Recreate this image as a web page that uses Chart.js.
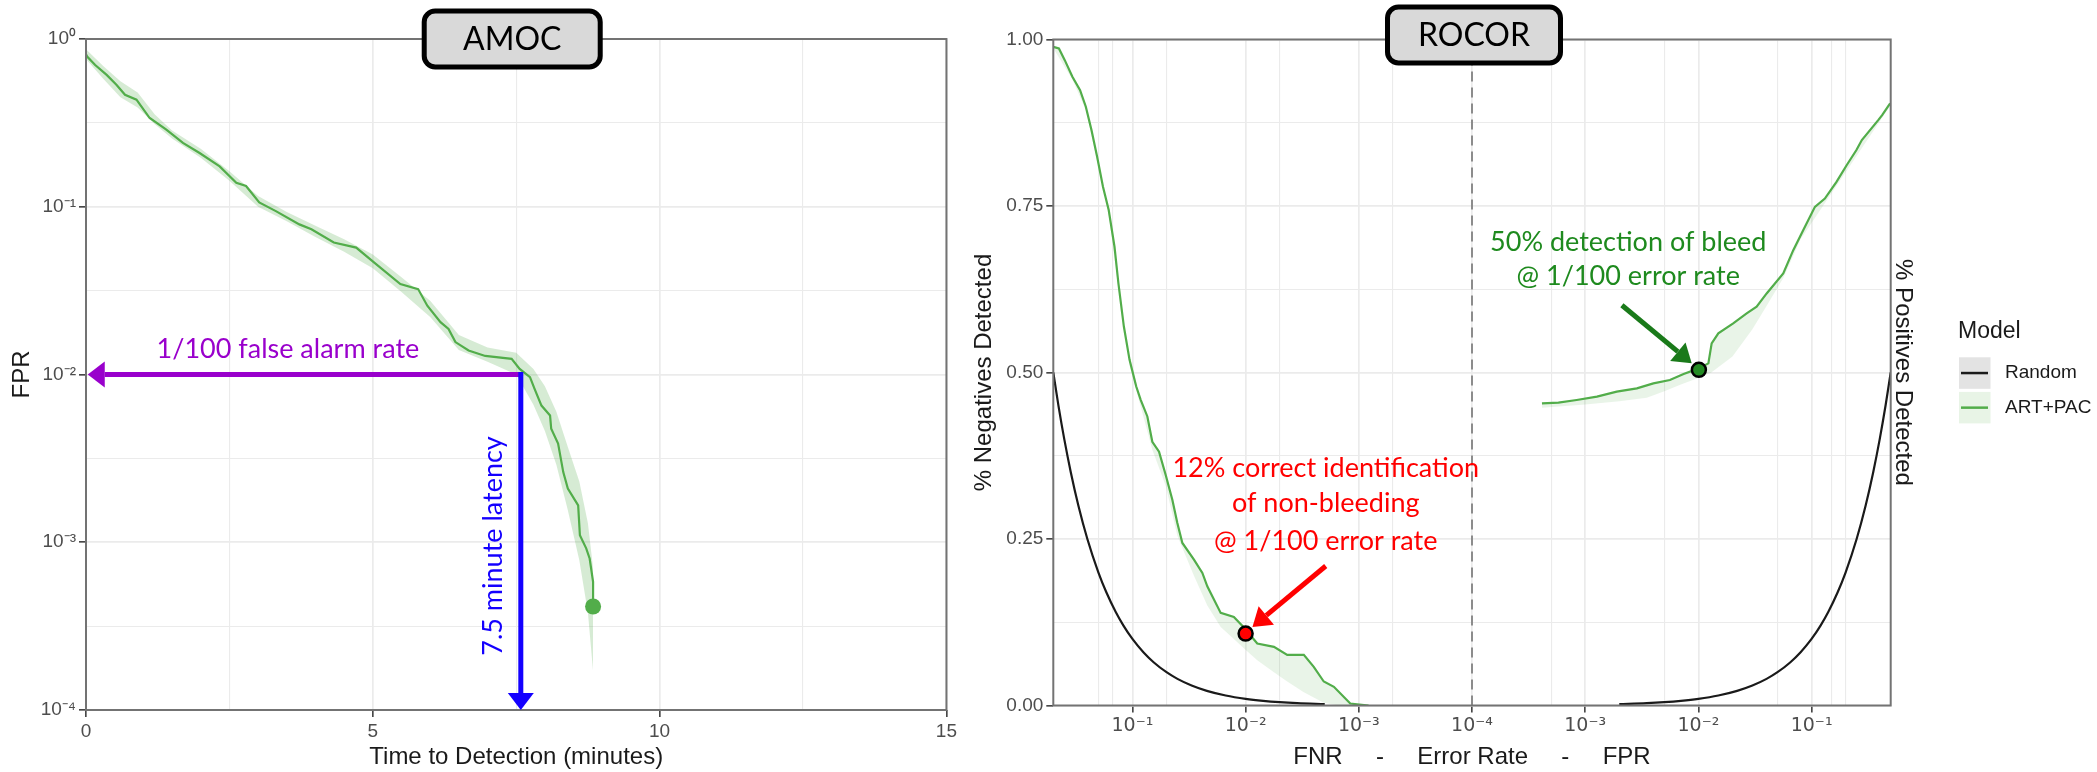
<!DOCTYPE html>
<html>
<head>
<meta charset="utf-8">
<title>AMOC / ROCOR</title>
<script src="https://cdn.jsdelivr.net/npm/chart.js@4.4.1/dist/chart.umd.min.js"></script>
<style>
  html, body { margin: 0; padding: 0; background: #fff; }
  body { width: 2097px; height: 772px; position: relative; overflow: hidden; }
  #amocWrap { position: absolute; left: 0; top: 0; width: 960px; height: 772px; }
  #rocorWrap { position: absolute; left: 960px; top: 0; width: 1137px; height: 772px; }
</style>
</head>
<body>
<div id="amocWrap"><canvas id="amocChart" width="960" height="772"></canvas></div>
<div id="rocorWrap"><canvas id="rocorChart" width="1137" height="772"></canvas></div>
<script>
/* ================= AMOC DATA ================= */
const amocTime = [0, 0.02, 0.16, 0.36, 0.53, 0.68, 0.88, 1.11, 1.40, 1.69, 1.98, 2.33, 2.62, 2.79, 3.02, 3.31, 3.72, 3.93, 4.32, 4.71, 5.02, 5.48, 5.79, 5.95, 6.18, 6.32, 6.44, 6.67, 6.96, 7.42, 7.56, 7.74, 7.82, 7.94, 8.09, 8.11, 8.23, 8.32, 8.40, 8.58, 8.61, 8.72, 8.78, 8.84, 8.84];
const amocFpr = [0.813, 0.785, 0.700, 0.611, 0.533, 0.465, 0.435, 0.338, 0.288, 0.240, 0.209, 0.174, 0.139, 0.133, 0.106, 0.0942, 0.0785, 0.0735, 0.0612, 0.0571, 0.0466, 0.0346, 0.0323, 0.0257, 0.0205, 0.0187, 0.0156, 0.0139, 0.0129, 0.0124, 0.0108, 0.00964, 0.0082, 0.00653, 0.0057, 0.00475, 0.00387, 0.00262, 0.00209, 0.00166, 0.0011, 0.00092, 0.0008, 0.00058, 0.000414];

const amocBandTime = [0, 0.3, 0.6, 0.9, 1.2, 1.5, 2.0, 2.5, 3.0, 3.5, 4.0, 4.5, 5.0, 5.5, 6.0, 6.5, 7.0, 7.5, 7.8, 8.0, 8.2, 8.4, 8.6, 8.75, 8.84];
const amocBandUpper = [0.87, 0.69, 0.56, 0.48, 0.355, 0.285, 0.222, 0.163, 0.116, 0.093, 0.077, 0.064, 0.052, 0.038, 0.0275, 0.0172, 0.0145, 0.0135, 0.0108, 0.0085, 0.006, 0.0037, 0.0023, 0.0013, 0.0007];
const amocBandLower = [0.76, 0.58, 0.45, 0.39, 0.31, 0.255, 0.196, 0.143, 0.100, 0.082, 0.066, 0.054, 0.043, 0.031, 0.022, 0.0140, 0.0119, 0.0100, 0.0066, 0.0046, 0.0029, 0.00155, 0.00078, 0.00038, 0.00017];

const amocXTicks = [0, 5, 10, 15];
const amocXMinor = [2.5, 7.5, 12.5];
const amocYTicks = [1e-4, 1e-3, 1e-2, 1e-1, 1];
const amocYLabels = ["10⁻⁴", "10⁻³", "10⁻²", "10⁻¹", "10⁰"];
const amocYMinor = [3.162e-4, 3.162e-3, 0.03162, 0.3162];

// annotation anchors (data space)
const alarmRate = 0.01;
const latencyMin = 7.58;
const alarmArrowTip = 0.03;
const alarmNoteAt = [3.52, 0.0142];
const latencyNoteAt = [7.1, 9.5e-4];

/* ================= ROCOR DATA ================= */
const randomRate = [0.5, 0.45, 0.4, 0.35, 0.3, 0.25, 0.2, 0.17, 0.14, 0.12, 0.1, 0.08, 0.065, 0.05, 0.04, 0.03, 0.022, 0.015, 0.01, 0.007, 0.005, 0.0035, 0.002];
const randomDetected = [0.5, 0.45, 0.4, 0.35, 0.3, 0.25, 0.2, 0.17, 0.14, 0.12, 0.1, 0.08, 0.065, 0.05, 0.04, 0.03, 0.022, 0.015, 0.01, 0.007, 0.005, 0.0035, 0.002];

// ART+PAC, FNR side (left half)
const artFnr = [0.5, 0.446, 0.396, 0.339, 0.290, 0.258, 0.230, 0.205, 0.182, 0.162, 0.144, 0.133, 0.119, 0.106, 0.0925, 0.0845, 0.0738, 0.0667, 0.0582, 0.0508, 0.0444, 0.0401, 0.0362, 0.0286, 0.0241, 0.0218, 0.0166, 0.0127, 0.0102, 0.00789, 0.00562, 0.00429, 0.00306, 0.0025, 0.00204, 0.00166, 0.00119, 0.00082];
const artNegDetected = [0.989, 0.9865, 0.969, 0.944, 0.924, 0.899, 0.864, 0.824, 0.779, 0.744, 0.689, 0.634, 0.569, 0.519, 0.479, 0.459, 0.434, 0.396, 0.381, 0.346, 0.309, 0.274, 0.244, 0.219, 0.199, 0.179, 0.139, 0.133, 0.116, 0.093, 0.088, 0.076, 0.076, 0.058, 0.036, 0.028, 0.003, 0.0];
const artFnrBand = [0.5, 0.339, 0.258, 0.205, 0.162, 0.133, 0.106, 0.0845, 0.0667, 0.0508, 0.0401, 0.0286, 0.0218, 0.0166, 0.0127, 0.0102, 0.00789, 0.00562, 0.00429, 0.00306, 0.0025, 0.00204, 0.0015, 0.00075];
const artNegBandLow = [0.987, 0.940, 0.894, 0.818, 0.738, 0.626, 0.510, 0.449, 0.384, 0.330, 0.255, 0.195, 0.150, 0.118, 0.100, 0.085, 0.068, 0.050, 0.036, 0.020, 0.012, 0.004, 0.0, 0.0];

// ART+PAC, FPR side (right half)
const artFpr = [0.000415, 0.00058, 0.00084, 0.00127, 0.0019, 0.00286, 0.0040, 0.0056, 0.0074, 0.0101, 0.01225, 0.0131, 0.015, 0.0203, 0.0267, 0.0327, 0.0401, 0.0562, 0.0689, 0.0843, 0.107, 0.131, 0.166, 0.204, 0.249, 0.278, 0.388, 0.42, 0.494];
const artPosDetected = [0.4537, 0.4547, 0.4587, 0.4637, 0.4712, 0.4762, 0.4837, 0.4887, 0.4977, 0.5062, 0.5137, 0.5437, 0.5587, 0.5737, 0.5887, 0.5987, 0.6187, 0.6487, 0.6837, 0.7137, 0.7487, 0.7612, 0.7862, 0.8112, 0.834, 0.849, 0.879, 0.8865, 0.904];
const artFprBand = [0.000415, 0.001, 0.002, 0.0035, 0.005, 0.007, 0.0101, 0.013, 0.02, 0.03, 0.04, 0.0562, 0.08, 0.494];
const artPosBandLow = [0.447, 0.452, 0.457, 0.462, 0.472, 0.482, 0.492, 0.50, 0.524, 0.565, 0.60, 0.642, 0.70, 0.90];

// highlighted operating points at 1/100 error rate
const fnrMark = [0.01, 0.108];
const fprMark = [0.0101, 0.504];

const rocorTickRates = [1e-1, 1e-2, 1e-3, 1e-4];
const rocorTickLabels = ["10⁻¹", "10⁻²", "10⁻³", "10⁻⁴"];
const rocorMinorRates = [0.2, 0.15, 0.05, 0.005, 0.0005];
const rocorYTicks = [0, 0.25, 0.5, 0.75, 1];
const rocorYMinor = [0.125, 0.375, 0.625, 0.875];
const rocorEdgeRate = 0.5;
const dividerRate = 1e-4;

// annotation anchors (rate, share)
const redNoteRate = 0.00196;
const redNoteRows = [0.356, 0.304, 0.246];
const redArrow = [[0.00196, 0.2095], [0.0087, 0.118]];
const greenNoteRate = 0.0024;
const greenNoteRows = [0.696, 0.645];
const greenArrow = [[0.00211, 0.601], [0.00873, 0.514]];

const legendTitle = "Model";
const legendLabels = ["Random", "ART+PAC"];

/* ================= STYLE ================= */
const GREEN = "#52ad4a";
const GRID = "#ebebeb";
const TICK_TEXT = "#4d4d4d";
const AXIS_FONT = "Liberation Sans";
const NOTE_FONT = "Lato";

/* ================= HELPERS ================= */
// error-rate axis: FNR runs from the left edge to 10^-4 in the middle, FPR from the middle to the right edge
const leftPos = r => -(Math.log10(r) + 4);
const rightPos = r => Math.log10(r) + 4;
const near = (a, b) => Math.abs(a - b) < 1e-6 * Math.max(1, Math.abs(b));
const nearRel = (a, b) => Math.abs(a - b) <= 1e-6 * Math.abs(b);

function drawArrow(ctx, x1, y1, x2, y2, color, width, headLen, headHalf) {
  const ang = Math.atan2(y2 - y1, x2 - x1);
  const bx = x2 - headLen * Math.cos(ang);
  const by = y2 - headLen * Math.sin(ang);
  ctx.save();
  ctx.strokeStyle = color;
  ctx.fillStyle = color;
  ctx.lineWidth = width;
  ctx.beginPath();
  ctx.moveTo(x1, y1);
  ctx.lineTo(bx, by);
  ctx.stroke();
  ctx.beginPath();
  ctx.moveTo(x2, y2);
  ctx.lineTo(bx + headHalf * Math.sin(ang), by - headHalf * Math.cos(ang));
  ctx.lineTo(bx - headHalf * Math.sin(ang), by + headHalf * Math.cos(ang));
  ctx.closePath();
  ctx.fill();
  ctx.restore();
}

function drawTitleBox(ctx, cx, top, w, h, text) {
  ctx.save();
  ctx.beginPath();
  ctx.roundRect(cx - w / 2, top, w, h, 11);
  ctx.fillStyle = "#d9d9d9";
  ctx.fill();
  ctx.lineWidth = 5;
  ctx.strokeStyle = "#000";
  ctx.stroke();
  ctx.fillStyle = "#000";
  ctx.font = `32px ${NOTE_FONT}`;
  ctx.textAlign = "center";
  ctx.textBaseline = "middle";
  ctx.fillText(text, cx, top + h / 2 + 1);
  ctx.restore();
}

function drawNote(ctx, lines, x, ys, color, size) {
  ctx.save();
  ctx.fillStyle = color;
  ctx.font = `${size}px ${NOTE_FONT}`;
  ctx.textAlign = "center";
  ctx.textBaseline = "middle";
  lines.forEach((t, i) => ctx.fillText(t, x, ys[i]));
  ctx.restore();
}

/* ================= PANEL PLUGIN ================= */
const panelDecor = {
  id: "panelDecor",
  beforeDatasetsDraw(chart, args, opts) {
    if (opts.divider === undefined) return;
    const { ctx, chartArea: a, scales: { x } } = chart;
    const px = x.getPixelForValue(opts.divider);
    ctx.save();
    ctx.strokeStyle = "#8c8c8c";
    ctx.lineWidth = 2;
    ctx.setLineDash([10, 6]);
    ctx.beginPath();
    ctx.moveTo(px, a.top);
    ctx.lineTo(px, a.bottom);
    ctx.stroke();
    ctx.restore();
  },
  afterDatasetsDraw(chart) {
    const { ctx, chartArea: a } = chart;
    ctx.save();
    ctx.strokeStyle = "#737373";
    ctx.lineWidth = 2;
    ctx.strokeRect(a.left, a.top, a.right - a.left, a.bottom - a.top);
    ctx.restore();
  },
  afterDraw(chart, args, opts) {
    const { ctx, chartArea: a } = chart;
    if (opts.draw) opts.draw(chart, ctx);
    drawTitleBox(ctx, (a.left + a.right) / 2 + opts.boxShift, opts.boxTop, opts.boxWidth, 56, opts.title);
  }
};

/* ================= AMOC CHART ================= */
function amocYLabel(v) {
  const i = amocYTicks.findIndex(t => nearRel(v, t));
  return i >= 0 ? amocYLabels[i] : "";
}

function drawAmocNotes(chart, ctx) {
  const { x, y } = chart.scales;
  const lx = x.getPixelForValue(latencyMin);
  const ly = y.getPixelForValue(alarmRate);

  // 1/100 false alarm rate
  drawArrow(ctx, lx, ly, x.getPixelForValue(alarmArrowTip), ly, "#9900cc", 5, 17, 13);
  drawNote(ctx, ["1/100 false alarm rate"], x.getPixelForValue(alarmNoteAt[0]),
    [y.getPixelForValue(alarmNoteAt[1])], "#9900cc", 27);

  // latency
  drawArrow(ctx, lx, ly - 2.5, lx, y.getPixelForValue(1e-4), "#1400ff", 5, 17, 13);
  ctx.save();
  ctx.translate(x.getPixelForValue(latencyNoteAt[0]), y.getPixelForValue(latencyNoteAt[1]));
  ctx.rotate(-Math.PI / 2);
  drawNote(ctx, ["7.5 minute latency"], 0, [0], "#1400ff", 27);
  ctx.restore();
}

const amocChart = new Chart(document.getElementById("amocChart"), {
  type: "line",
  data: {
    datasets: [
      {
        label: "band upper",
        data: amocBandTime.map((t, i) => ({ x: t, y: amocBandUpper[i] })),
        borderWidth: 0, pointRadius: 0, fill: false, order: 3
      },
      {
        label: "band lower",
        data: amocBandTime.map((t, i) => ({ x: t, y: amocBandLower[i] })),
        borderWidth: 0, pointRadius: 0, fill: "-1",
        backgroundColor: "rgba(82,173,74,0.24)", order: 3
      },
      {
        label: "ART+PAC",
        data: amocTime.map((t, i) => ({ x: t, y: amocFpr[i] })),
        borderColor: GREEN, borderWidth: 2.2, pointRadius: 0, fill: false, order: 2
      },
      {
        label: "end",
        data: [{ x: amocTime[amocTime.length - 1], y: amocFpr[amocFpr.length - 1] }],
        showLine: false, pointRadius: 8, pointBorderWidth: 0,
        pointBackgroundColor: GREEN, order: 1
      }
    ]
  },
  options: {
    responsive: false,
    animation: false,
    devicePixelRatio: 1,
    events: [],
    layout: { padding: { left: 0, top: 39, right: 10, bottom: 0 } },
    plugins: {
      legend: { display: false },
      tooltip: { enabled: false },
      panelDecor: { title: "AMOC", boxShift: -4, boxTop: 11, boxWidth: 176, draw: drawAmocNotes }
    },
    scales: {
      x: {
        type: "linear", min: 0, max: 15,
        afterFit: s => { s.height = 62; },
        afterBuildTicks: s => {
          s.ticks = [...amocXTicks, ...amocXMinor].sort((a, b) => a - b).map(v => ({ value: v }));
        },
        ticks: {
          autoSkip: false, maxRotation: 0, padding: 3, color: TICK_TEXT,
          font: { family: AXIS_FONT, size: 19 },
          callback: v => amocXTicks.includes(v) ? String(v) : ""
        },
        grid: {
          color: GRID, tickLength: 7, tickWidth: 1.5,
          lineWidth: c => (c.tick && amocXTicks.includes(c.tick.value)) ? 1.7 : 1.1,
          tickColor: c => (c.tick && amocXTicks.includes(c.tick.value)) ? "#333" : "rgba(0,0,0,0)"
        },
        border: { display: false },
        title: {
          display: true, text: "Time to Detection (minutes)", color: "#1a1a1a",
          font: { family: AXIS_FONT, size: 24 }, padding: { top: 0, bottom: 0 }
        }
      },
      y: {
        type: "logarithmic", min: 1e-4, max: 1,
        afterFit: s => { s.width = 86; },
        afterBuildTicks: s => {
          s.ticks = [...amocYTicks, ...amocYMinor].sort((a, b) => a - b).map(v => ({ value: v }));
        },
        ticks: {
          autoSkip: false, padding: 3, color: TICK_TEXT,
          font: { family: AXIS_FONT, size: 19 },
          callback: v => amocYLabel(v)
        },
        grid: {
          color: GRID, tickLength: 7, tickWidth: 1.5,
          lineWidth: c => (c.tick && amocYLabel(c.tick.value)) ? 1.7 : 1.1,
          tickColor: c => (c.tick && amocYLabel(c.tick.value)) ? "#333" : "rgba(0,0,0,0)"
        },
        border: { display: false },
        title: {
          display: true, text: "FPR", color: "#1a1a1a",
          font: { family: AXIS_FONT, size: 24 }, padding: { top: 8, bottom: 0 }
        }
      }
    }
  },
  plugins: [panelDecor]
});

/* ================= ROCOR CHART ================= */
const xEdge = rightPos(rocorEdgeRate);
const rocorMajorPos = [...rocorTickRates.map(leftPos), ...rocorTickRates.slice(0, 3).map(rightPos)];
const rocorMinorPos = [...rocorMinorRates.map(leftPos), ...rocorMinorRates.map(rightPos)];

function rocorXLabel(v) {
  const i = rocorTickRates.findIndex(r => near(Math.abs(v), rightPos(r)));
  return i >= 0 ? rocorTickLabels[i] : "";
}
const isRocorMajor = v => rocorMajorPos.some(p => near(v, p));
const isRocorYMajor = v => rocorYTicks.some(p => near(v, p));

function drawRocorNotes(chart, ctx) {
  const { x, y } = chart.scales;
  const a = chart.chartArea;

  // FNR side note
  const rx = x.getPixelForValue(leftPos(redNoteRate));
  drawNote(ctx, ["12% correct identification", "of non-bleeding", "@ 1/100 error rate"], rx,
    redNoteRows.map(v => y.getPixelForValue(v)), "#ff0000", 27);
  drawArrow(ctx,
    x.getPixelForValue(leftPos(redArrow[0][0])), y.getPixelForValue(redArrow[0][1]),
    x.getPixelForValue(leftPos(redArrow[1][0])), y.getPixelForValue(redArrow[1][1]),
    "#ff0000", 5, 18, 12);

  // FPR side note
  const gx = x.getPixelForValue(rightPos(greenNoteRate));
  drawNote(ctx, ["50% detection of bleed", "@ 1/100 error rate"], gx,
    greenNoteRows.map(v => y.getPixelForValue(v)), "#1e8a1e", 27);
  drawArrow(ctx,
    x.getPixelForValue(rightPos(greenArrow[0][0])), y.getPixelForValue(greenArrow[0][1]),
    x.getPixelForValue(rightPos(greenArrow[1][0])), y.getPixelForValue(greenArrow[1][1]),
    "#1a7a1a", 5, 18, 12);

  // legend
  const lx = a.right + 67.3;
  const cy = (a.top + a.bottom) / 2;
  ctx.save();
  ctx.fillStyle = "#1a1a1a";
  ctx.textAlign = "left";
  ctx.textBaseline = "middle";
  ctx.font = `23px ${AXIS_FONT}`;
  ctx.fillText(legendTitle, lx, cy - 40.5);
  const keyFill = ["#e3e3e3", "#e8f4e6"];
  const keyLine = ["#1a1a1a", GREEN];
  legendLabels.forEach((label, i) => {
    const top = cy - 15.2 + i * 34.6;
    ctx.fillStyle = keyFill[i];
    ctx.fillRect(lx + 1, top, 31.5, 31.5);
    ctx.strokeStyle = keyLine[i];
    ctx.lineWidth = 2.5;
    ctx.beginPath();
    ctx.moveTo(lx + 3, top + 15.75);
    ctx.lineTo(lx + 30, top + 15.75);
    ctx.stroke();
    ctx.fillStyle = "#1a1a1a";
    ctx.font = `19px ${AXIS_FONT}`;
    ctx.fillText(label, lx + 47, top + 15.75);
  });
  ctx.restore();
}

const rocorChart = new Chart(document.getElementById("rocorChart"), {
  type: "line",
  data: {
    datasets: [
      {
        label: "Random (FNR)",
        data: randomRate.map((r, i) => ({ x: leftPos(r), y: randomDetected[i] })),
        borderColor: "#1a1a1a", borderWidth: 2.2, pointRadius: 0, fill: false,
        cubicInterpolationMode: "monotone", order: 2
      },
      {
        label: "Random (FPR)",
        data: randomRate.map((r, i) => ({ x: rightPos(r), y: randomDetected[i] })).reverse(),
        borderColor: "#1a1a1a", borderWidth: 2.2, pointRadius: 0, fill: false,
        cubicInterpolationMode: "monotone", order: 2
      },
      {
        label: "ART+PAC band (FNR)",
        data: artFnrBand.map((r, i) => ({ x: leftPos(r), y: artNegBandLow[i] })),
        borderWidth: 0, pointRadius: 0, fill: false, order: 3
      },
      {
        label: "ART+PAC (FNR)",
        data: artFnr.map((r, i) => ({ x: leftPos(r), y: artNegDetected[i] })),
        borderColor: GREEN, borderWidth: 2.2, pointRadius: 0,
        fill: "-1", backgroundColor: "rgba(82,173,74,0.13)", order: 2
      },
      {
        label: "ART+PAC band (FPR)",
        data: artFprBand.map((r, i) => ({ x: rightPos(r), y: artPosBandLow[i] })),
        borderWidth: 0, pointRadius: 0, fill: false, order: 3
      },
      {
        label: "ART+PAC (FPR)",
        data: artFpr.map((r, i) => ({ x: rightPos(r), y: artPosDetected[i] })),
        borderColor: GREEN, borderWidth: 2.2, pointRadius: 0,
        fill: "-1", backgroundColor: "rgba(82,173,74,0.13)", order: 2
      },
      {
        label: "FNR @ 1/100",
        data: [{ x: leftPos(fnrMark[0]), y: fnrMark[1] }],
        showLine: false, pointRadius: 7, pointBorderWidth: 2.5,
        pointBorderColor: "#000", pointBackgroundColor: "#ff0000", order: 0
      },
      {
        label: "FPR @ 1/100",
        data: [{ x: rightPos(fprMark[0]), y: fprMark[1] }],
        showLine: false, pointRadius: 7, pointBorderWidth: 2.5,
        pointBorderColor: "#000", pointBackgroundColor: "#228b22", order: 0
      }
    ]
  },
  options: {
    responsive: false,
    animation: false,
    devicePixelRatio: 1,
    events: [],
    layout: { padding: { left: 0, top: 39.5, right: 166.3, bottom: 0 } },
    plugins: {
      legend: { display: false },
      tooltip: { enabled: false },
      panelDecor: {
        title: "ROCOR", boxShift: 2, boxTop: 7, boxWidth: 173,
        divider: rightPos(dividerRate), draw: drawRocorNotes
      }
    },
    scales: {
      x: {
        type: "linear", min: -xEdge, max: xEdge,
        afterFit: s => { s.height = 66.5; },
        afterBuildTicks: s => {
          s.ticks = [...rocorMajorPos, ...rocorMinorPos].sort((a, b) => a - b).map(v => ({ value: v }));
        },
        ticks: {
          autoSkip: false, maxRotation: 0, padding: 2, color: TICK_TEXT,
          font: { family: "DejaVu Sans", size: 19 },
          callback: v => rocorXLabel(v)
        },
        grid: {
          color: GRID, tickLength: 7, tickWidth: 1.5,
          lineWidth: c => (c.tick && isRocorMajor(c.tick.value)) ? 1.7 : 1.1,
          tickColor: c => (c.tick && isRocorMajor(c.tick.value)) ? "#333" : "rgba(0,0,0,0)"
        },
        border: { display: false },
        title: {
          display: true, text: "FNR     -     Error Rate     -     FPR", color: "#1a1a1a",
          font: { family: AXIS_FONT, size: 24 }, padding: { top: 0, bottom: 0 }
        }
      },
      y: {
        type: "linear", min: 0, max: 1, position: "left",
        afterFit: s => { s.width = 93.3; },
        afterBuildTicks: s => {
          s.ticks = [...rocorYTicks, ...rocorYMinor].sort((a, b) => a - b).map(v => ({ value: v }));
        },
        ticks: {
          autoSkip: false, padding: 3, color: TICK_TEXT,
          font: { family: AXIS_FONT, size: 19 },
          callback: v => isRocorYMajor(v) ? v.toFixed(2) : ""
        },
        grid: {
          color: GRID, tickLength: 7, tickWidth: 1.5,
          lineWidth: c => (c.tick && isRocorYMajor(c.tick.value)) ? 1.7 : 1.1,
          tickColor: c => (c.tick && isRocorYMajor(c.tick.value)) ? "#333" : "rgba(0,0,0,0)"
        },
        border: { display: false },
        title: {
          display: true, text: "% Negatives Detected", color: "#1a1a1a",
          font: { family: AXIS_FONT, size: 24 }, padding: { top: 9.6, bottom: 0 }
        }
      },
      y2: {
        type: "linear", min: 0, max: 1, position: "right",
        afterFit: s => { s.width = 40; },
        ticks: { display: false },
        grid: { display: false },
        border: { display: false },
        title: {
          display: true, text: "% Positives Detected", color: "#1a1a1a",
          font: { family: AXIS_FONT, size: 24 }, padding: { top: 13.3, bottom: 0 }
        }
      }
    }
  },
  plugins: [panelDecor]
});
</script>
</body>
</html>
